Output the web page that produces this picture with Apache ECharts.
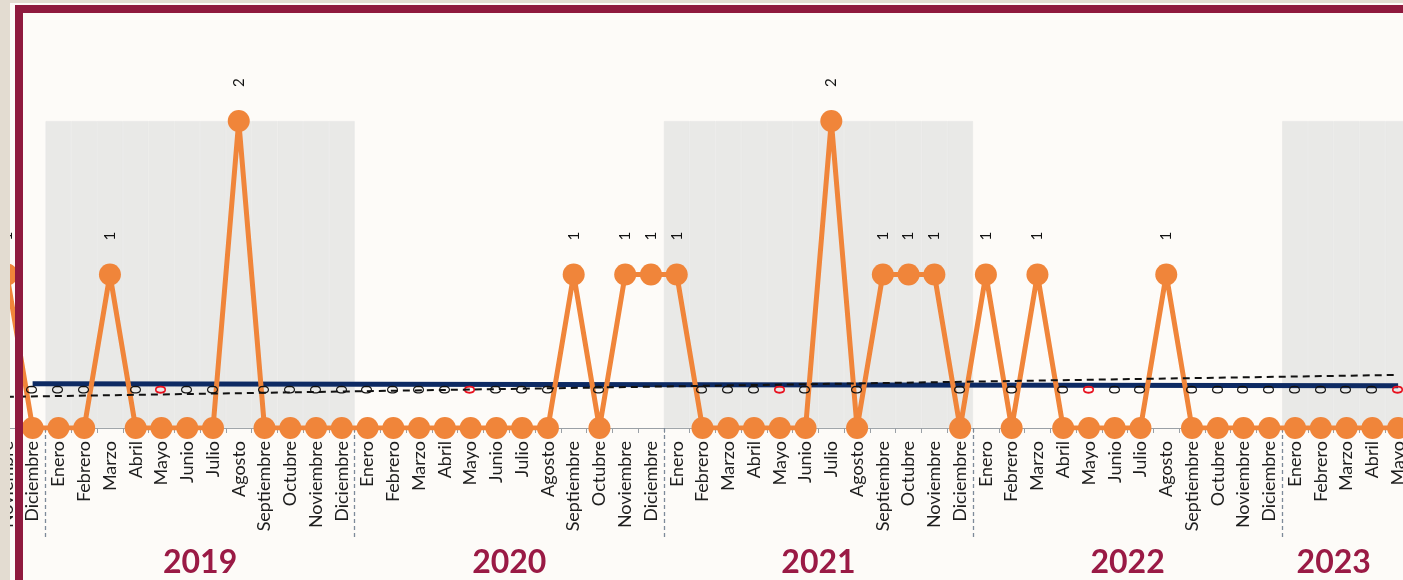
<!DOCTYPE html>
<html><head><meta charset="utf-8">
<script src="https://cdn.jsdelivr.net/npm/echarts@6/dist/echarts.min.js"></script>
<style>html,body{margin:0;padding:0;background:#e3dcd1;} #c{width:1403px;height:580px;}</style>
</head><body><div id="c"></div>
<script>
const categories = [
  'Noviembre 2018','Diciembre 2018',
  'Enero 2019','Febrero 2019','Marzo 2019','Abril 2019','Mayo 2019','Junio 2019','Julio 2019','Agosto 2019','Septiembre 2019','Octubre 2019','Noviembre 2019','Diciembre 2019',
  'Enero 2020','Febrero 2020','Marzo 2020','Abril 2020','Mayo 2020','Junio 2020','Julio 2020','Agosto 2020','Septiembre 2020','Octubre 2020','Noviembre 2020','Diciembre 2020',
  'Enero 2021','Febrero 2021','Marzo 2021','Abril 2021','Mayo 2021','Junio 2021','Julio 2021','Agosto 2021','Septiembre 2021','Octubre 2021','Noviembre 2021','Diciembre 2021',
  'Enero 2022','Febrero 2022','Marzo 2022','Abril 2022','Mayo 2022','Junio 2022','Julio 2022','Agosto 2022','Septiembre 2022','Octubre 2022','Noviembre 2022','Diciembre 2022',
  'Enero 2023','Febrero 2023','Marzo 2023','Abril 2023','Mayo 2023'
];
const casos = [
  1, 0,
  0, 0, 1, 0, 0, 0, 0, 2, 0, 0, 0, 0,
  0, 0, 0, 0, 0, 0, 0, 0, 1, 0, 1, 1,
  1, 0, 0, 0, 0, 0, 2, 0, 1, 1, 1, 0,
  1, 0, 1, 0, 0, 0, 0, 1, 0, 0, 0, 0,
  0, 0, 0, 0, 0
];
// promedio (solid navy line): start / end values
const promedio = { from: 'Diciembre 2018', to: 'Mayo 2023', start: 0.288, end: 0.276 };
// tendencia (dashed line): start / end values
const tendencia = { from: 'Noviembre 2018', to: 'Mayo 2023', start: 0.203, end: 0.346 };
const shadedYears = ['2019', '2021', '2023'];
const highlightMonths = ['Mayo'];
const yearLabels = [
  { text: '2019', from: 'Enero 2019', to: 'Diciembre 2019' },
  { text: '2020', from: 'Enero 2020', to: 'Diciembre 2020' },
  { text: '2021', from: 'Enero 2021', to: 'Diciembre 2021' },
  { text: '2022', from: 'Enero 2022', to: 'Diciembre 2022' },
  { text: '2023', from: 'Enero 2023', to: 'Abril 2023' }
];

const FONT = 'Lato, "Open Sans", sans-serif';
const ORANGE = '#f0853a';
const CRIMSON = '#8f1a3e';
const BEIGE = '#e3dcd1';

function endpoints(spec) {
  return categories.map(c => c === spec.from ? spec.start : (c === spec.to ? spec.end : null));
}
const shading = categories.map(c => shadedYears.includes(c.split(' ')[1]) ? 2 : null);
const pointData = casos.map((v, i) => {
  const m = categories[i].split(' ')[0];
  if (v === 0 && highlightMonths.includes(m)) {
    return { value: v, label: { color: '#e8101e', fontWeight: 'bold' } };
  }
  return v;
});

const chart = echarts.init(document.getElementById('c'));
const option = {
  animation: false,
  backgroundColor: 'transparent',
  grid: { left: -6, width: 1417, top: 121, bottom: 152, outerBoundsMode: 'none', containLabel: false },
  xAxis: [{
    type: 'category', data: categories, boundaryGap: true,
    axisLine: { lineStyle: { color: '#9aa0a6', width: 1.2 } },
    axisTick: { show: true, length: 5, lineStyle: { color: '#9aa0a6' } },
    axisLabel: { rotate: 90, interval: 0, fontSize: 18, color: '#1e1e1e', fontFamily: FONT, margin: 13,
      formatter: v => v.split(' ')[0] },
    splitLine: { show: false }
  }, {
    type: 'category', data: categories, boundaryGap: true, position: 'bottom',
    axisLine: { show: false },
    axisLabel: { show: false },
    axisTick: { show: true, length: 109, interval: (i, v) => String(v).startsWith('Enero'),
      lineStyle: { color: '#7d8a99', type: [4, 3], width: 1.3 } }
  }],
  yAxis: { type: 'value', min: 0, max: 2, show: false, splitLine: { show: false } },
  series: [{
    type: 'bar', data: shading, barCategoryGap: '0%', barGap: '0%', silent: true, z: 0,
    itemStyle: { color: '#e9e9e7', borderColor: '#e9e9e7', borderWidth: 0.8 }
  }, {
    type: 'line', data: endpoints(promedio), connectNulls: true, symbol: 'none', silent: true, z: 3,
    lineStyle: { color: '#0d2a63', width: 5 }
  }, {
    type: 'line', data: pointData, symbol: 'circle', symbolSize: 22, z: 5,
    lineStyle: { color: ORANGE, width: 5 },
    itemStyle: { color: ORANGE },
    label: { show: true, position: 'top', distance: 23, rotate: 90, align: 'left', verticalAlign: 'middle',
      fontSize: 15, color: '#111', fontFamily: FONT }
  }, {
    type: 'line', data: endpoints(tendencia), connectNulls: true, symbol: 'none', silent: true, z: 6,
    lineStyle: { color: '#111', width: 2, type: [7, 5] }
  }]
};
chart.setOption(option);

const yearGraphics = yearLabels.map(y => {
  const a = chart.convertToPixel({ xAxisIndex: 0 }, y.from);
  const b = chart.convertToPixel({ xAxisIndex: 0 }, y.to);
  return { type: 'text', z: 50, x: (a + b) / 2, y: 563,
    style: { text: y.text, fill: '#9a1a45', font: 'bold 32px ' + FONT, align: 'center', verticalAlign: 'middle' } };
});
chart.setOption({
  graphic: [
    { type: 'rect', z: -19, shape: { x: 10, y: 2, width: 1400, height: 580 }, style: { fill: '#fdfbf8' } },
    { type: 'rect', z: 100, shape: { x: 0, y: 0, width: 10, height: 580 }, style: { fill: BEIGE } },
    { type: 'rect', z: 100, shape: { x: 0, y: 0, width: 1403, height: 3 }, style: { fill: BEIGE } },
    { type: 'rect', z: 100, shape: { x: 15, y: 5, width: 8, height: 580 }, style: { fill: CRIMSON } },
    { type: 'rect', z: 100, shape: { x: 15, y: 5, width: 1400, height: 8 }, style: { fill: CRIMSON } }
  ].concat(yearGraphics)
});
</script></body></html>
